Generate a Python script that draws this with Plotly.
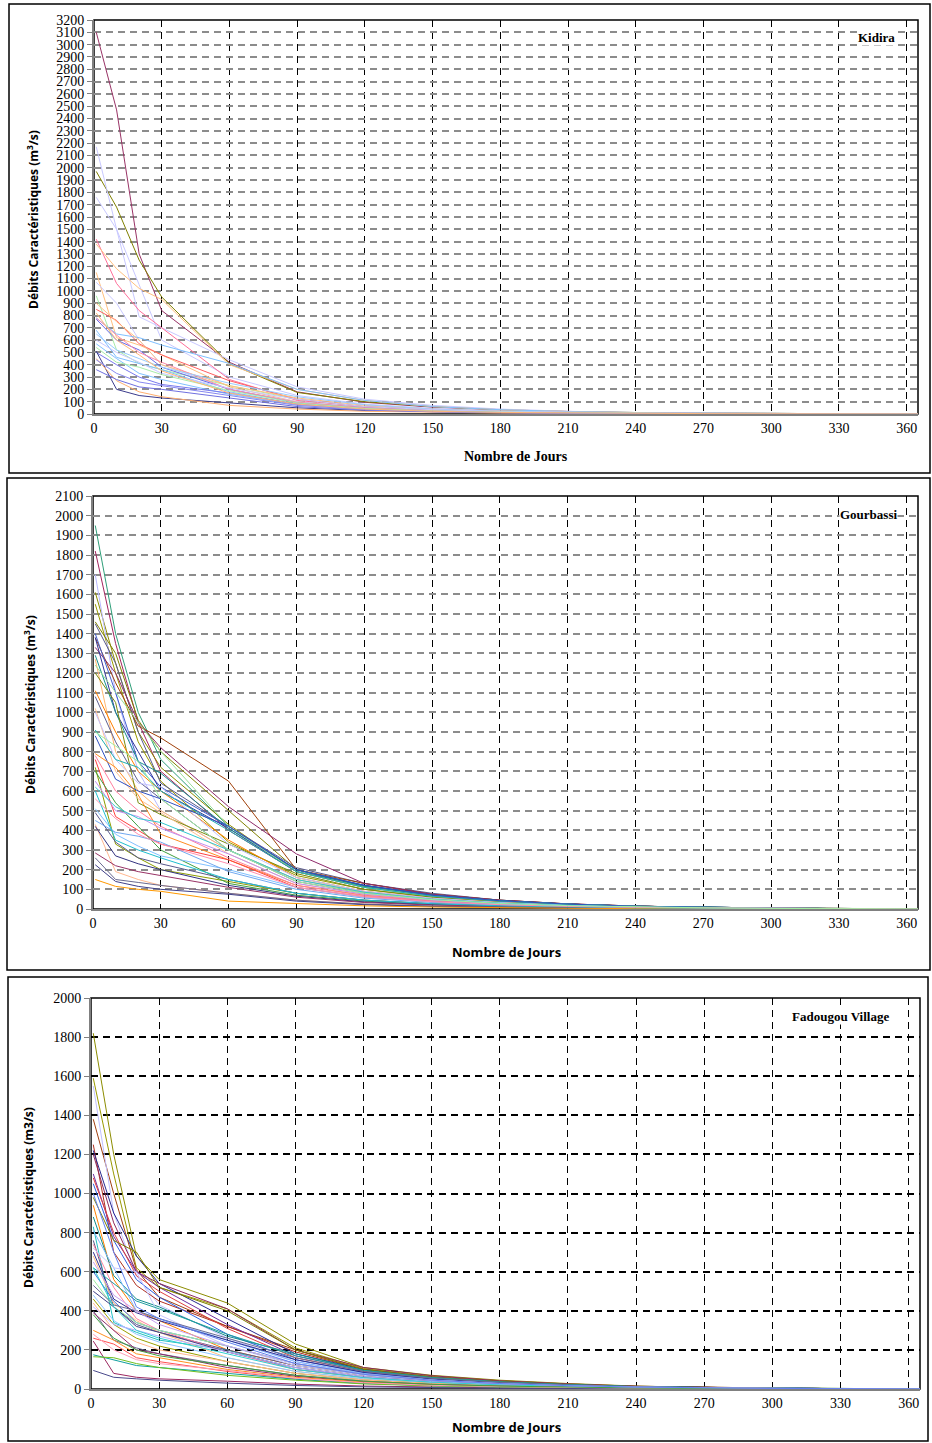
import plotly.graph_objects as go

W, H = 932, 1443

days = [1, 10, 20, 30, 60, 90, 120, 150, 180, 210, 240, 270, 300, 330, 355, 365]

kidira_q = [
    [3100, 2470, 1300, 840, 420, 180, 95, 55, 32, 18, 10, 6, 4, 2, 1, 0.5],
    [1970, 1680, 1250, 950, 410, 175, 100, 60, 35, 20, 12, 7, 4, 2, 1, 0.5],
    [2170, 1500, 790, 700, 440, 220, 120, 70, 40, 22, 12, 7, 4, 2, 1, 0.5],
    [1760, 1500, 1050, 600, 300, 150, 80, 45, 25, 14, 8, 5, 3, 2, 1, 0.5],
    [1420, 1060, 840, 700, 280, 110, 60, 35, 20, 12, 7, 4, 3, 2, 1, 0.5],
    [1380, 1180, 1020, 930, 400, 200, 110, 60, 35, 20, 12, 7, 4, 2, 1, 0.5],
    [1150, 620, 560, 480, 220, 100, 55, 30, 18, 10, 6, 4, 2, 1, 1, 0.5],
    [1070, 900, 600, 400, 200, 100, 55, 30, 18, 10, 6, 4, 2, 1, 1, 0.5],
    [960, 520, 410, 360, 230, 120, 60, 35, 20, 12, 7, 4, 3, 2, 1, 0.5],
    [850, 760, 570, 480, 270, 120, 60, 35, 20, 12, 7, 4, 3, 2, 1, 0.5],
    [780, 650, 620, 560, 410, 200, 110, 60, 35, 20, 12, 7, 4, 2, 1, 0.5],
    [770, 600, 520, 380, 200, 90, 50, 28, 16, 9, 5, 3, 2, 1, 1, 0.5],
    [680, 460, 410, 360, 180, 80, 45, 25, 15, 9, 5, 3, 2, 1, 1, 0.5],
    [570, 450, 330, 280, 160, 75, 40, 22, 13, 8, 5, 3, 2, 1, 1, 0.5],
    [500, 400, 300, 240, 170, 80, 40, 22, 13, 8, 5, 3, 2, 1, 1, 0.5],
    [510, 200, 150, 130, 90, 50, 28, 16, 10, 6, 4, 2, 1, 1, 0.5, 0.3],
    [450, 270, 180, 140, 70, 40, 22, 13, 8, 5, 3, 2, 1, 1, 0.5, 0.3],
    [360, 280, 220, 200, 130, 60, 32, 18, 11, 7, 4, 2, 1, 1, 0.5, 0.3],
    [900, 750, 600, 400, 230, 130, 70, 40, 22, 13, 8, 5, 3, 2, 1, 0.5],
    [780, 640, 500, 420, 200, 95, 50, 28, 16, 10, 6, 4, 2, 1, 1, 0.5],
    [650, 520, 450, 380, 250, 140, 75, 40, 22, 13, 8, 5, 3, 2, 1, 0.5],
    [600, 500, 420, 330, 210, 120, 60, 35, 20, 12, 7, 4, 3, 2, 1, 0.5],
    [540, 420, 380, 320, 190, 90, 45, 25, 15, 9, 5, 3, 2, 1, 1, 0.5],
    [440, 330, 260, 230, 150, 70, 35, 20, 12, 7, 4, 3, 2, 1, 1, 0.5],
    [820, 600, 480, 350, 170, 80, 40, 22, 13, 8, 5, 3, 2, 1, 1, 0.5],
]

gourbassi_q = [
    [1950, 1400, 1000, 760, 420, 200, 120, 75, 45, 25, 15, 8, 5, 2, 1, 0.5],
    [1820, 1350, 950, 700, 400, 190, 110, 70, 42, 25, 14, 8, 5, 2, 1, 0.5],
    [1610, 1250, 900, 720, 430, 190, 110, 65, 40, 24, 14, 8, 5, 2, 1, 0.5],
    [1550, 1200, 850, 650, 340, 170, 100, 60, 36, 22, 13, 7, 4, 2, 1, 0.5],
    [1700, 1100, 700, 500, 300, 150, 85, 50, 30, 18, 10, 6, 4, 2, 1, 0.5],
    [1460, 1300, 960, 800, 500, 200, 115, 70, 42, 25, 14, 8, 5, 2, 1, 0.5],
    [1450, 1250, 900, 640, 420, 210, 130, 80, 45, 26, 15, 8, 5, 2, 1, 0.5],
    [1380, 1150, 930, 870, 650, 200, 130, 75, 45, 26, 15, 8, 5, 2, 1, 0.5],
    [1330, 1200, 950, 820, 520, 280, 130, 75, 45, 26, 15, 8, 5, 2, 1, 0.5],
    [1400, 1100, 750, 620, 420, 200, 120, 70, 42, 25, 14, 8, 5, 2, 1, 0.5],
    [1380, 1000, 800, 600, 410, 190, 120, 70, 42, 25, 14, 8, 5, 2, 1, 0.5],
    [1290, 1000, 750, 690, 410, 200, 115, 70, 42, 25, 14, 8, 5, 2, 1, 0.5],
    [1270, 800, 600, 500, 300, 150, 85, 50, 30, 18, 10, 6, 4, 2, 1, 0.5],
    [1240, 1100, 950, 800, 420, 190, 110, 65, 40, 24, 14, 8, 5, 2, 1, 0.5],
    [1200, 1050, 540, 480, 330, 180, 100, 60, 36, 22, 13, 7, 4, 2, 1, 0.5],
    [1110, 900, 700, 600, 350, 160, 90, 55, 33, 20, 12, 7, 4, 2, 1, 0.5],
    [1080, 850, 650, 560, 300, 140, 80, 48, 28, 17, 10, 6, 3, 2, 1, 0.5],
    [1020, 700, 560, 490, 280, 130, 75, 45, 27, 16, 9, 5, 3, 2, 1, 0.5],
    [1000, 760, 640, 620, 330, 160, 90, 55, 33, 20, 12, 7, 4, 2, 1, 0.5],
    [910, 760, 720, 600, 400, 190, 110, 65, 40, 24, 14, 8, 5, 2, 1, 0.5],
    [880, 660, 600, 560, 420, 200, 120, 70, 42, 25, 14, 8, 5, 2, 1, 0.5],
    [790, 720, 580, 380, 250, 120, 70, 42, 25, 15, 9, 5, 3, 2, 1, 0.5],
    [780, 600, 500, 420, 260, 120, 68, 40, 24, 14, 8, 5, 3, 2, 1, 0.5],
    [760, 470, 400, 330, 250, 110, 62, 37, 22, 13, 8, 5, 3, 2, 1, 0.5],
    [720, 330, 260, 200, 140, 80, 45, 27, 16, 10, 6, 4, 2, 1, 1, 0.5],
    [700, 540, 420, 300, 130, 70, 40, 24, 14, 8, 5, 3, 2, 1, 1, 0.5],
    [650, 500, 470, 410, 280, 130, 75, 45, 27, 16, 9, 5, 3, 2, 1, 0.5],
    [620, 520, 460, 440, 300, 150, 85, 50, 30, 18, 10, 6, 4, 2, 1, 0.5],
    [510, 380, 320, 270, 200, 110, 60, 36, 22, 13, 8, 5, 3, 2, 1, 0.5],
    [490, 340, 260, 230, 150, 80, 45, 27, 16, 10, 6, 4, 2, 1, 1, 0.5],
    [450, 390, 370, 340, 190, 100, 55, 33, 20, 12, 7, 4, 2, 1, 1, 0.5],
    [430, 190, 150, 120, 80, 45, 25, 15, 9, 5, 3, 2, 1, 1, 0.5, 0.3],
    [420, 270, 230, 200, 120, 65, 36, 22, 13, 8, 5, 3, 2, 1, 0.5, 0.3],
    [285, 220, 190, 170, 110, 60, 33, 20, 12, 7, 4, 3, 2, 1, 0.5, 0.3],
    [260, 150, 135, 120, 80, 45, 25, 15, 9, 5, 3, 2, 1, 1, 0.5, 0.3],
    [225, 140, 115, 100, 75, 40, 22, 13, 8, 5, 3, 2, 1, 1, 0.5, 0.3],
    [150, 115, 100, 90, 40, 28, 16, 10, 6, 4, 2, 1, 1, 0.5, 0.3, 0.2],
    [600, 350, 300, 260, 150, 80, 45, 27, 16, 10, 6, 4, 2, 1, 1, 0.5],
    [560, 460, 380, 330, 230, 110, 62, 37, 22, 13, 8, 5, 3, 2, 1, 0.5],
    [900, 830, 750, 560, 300, 140, 80, 48, 28, 17, 10, 6, 3, 2, 1, 0.5],
]

fadougou_q = [
    [1820, 1200, 680, 560, 440, 230, 110, 70, 45, 28, 15, 8, 5, 2, 1, 0.5],
    [1590, 1100, 620, 520, 410, 210, 105, 65, 42, 26, 14, 8, 5, 2, 1, 0.5],
    [1380, 1000, 610, 470, 320, 200, 100, 60, 38, 23, 13, 7, 4, 2, 1, 0.5],
    [1550, 900, 580, 430, 260, 140, 80, 48, 30, 18, 10, 6, 3, 2, 1, 0.5],
    [1250, 700, 530, 450, 320, 190, 100, 60, 38, 23, 13, 7, 4, 2, 1, 0.5],
    [1220, 900, 680, 540, 360, 180, 100, 60, 38, 23, 13, 7, 4, 2, 1, 0.5],
    [1200, 850, 600, 540, 410, 200, 110, 68, 42, 26, 14, 8, 5, 2, 1, 0.5],
    [1100, 780, 600, 520, 330, 170, 95, 58, 36, 22, 12, 7, 4, 2, 1, 0.5],
    [1080, 800, 580, 500, 310, 160, 90, 55, 34, 20, 11, 6, 4, 2, 1, 0.5],
    [1050, 760, 560, 470, 280, 150, 85, 52, 32, 19, 11, 6, 4, 2, 1, 0.5],
    [980, 760, 700, 520, 400, 200, 100, 60, 38, 23, 13, 7, 4, 2, 1, 0.5],
    [940, 560, 400, 350, 200, 120, 70, 42, 26, 16, 9, 5, 3, 2, 1, 0.5],
    [880, 580, 460, 420, 270, 180, 95, 58, 36, 22, 12, 7, 4, 2, 1, 0.5],
    [830, 340, 290, 250, 200, 100, 60, 36, 22, 13, 8, 5, 3, 2, 1, 0.5],
    [810, 620, 400, 360, 250, 140, 80, 48, 30, 18, 10, 6, 3, 2, 1, 0.5],
    [760, 420, 330, 290, 200, 120, 70, 42, 26, 16, 9, 5, 3, 2, 1, 0.5],
    [740, 520, 360, 300, 190, 100, 60, 36, 22, 13, 8, 5, 3, 2, 1, 0.5],
    [720, 620, 600, 380, 220, 120, 70, 42, 26, 16, 9, 5, 3, 2, 1, 0.5],
    [700, 460, 390, 350, 250, 150, 85, 52, 32, 19, 11, 6, 4, 2, 1, 0.5],
    [680, 440, 350, 290, 160, 90, 52, 32, 20, 12, 7, 4, 2, 1, 1, 0.5],
    [620, 540, 450, 410, 280, 170, 95, 58, 36, 22, 12, 7, 4, 2, 1, 0.5],
    [600, 450, 340, 300, 220, 130, 75, 45, 28, 17, 10, 6, 3, 2, 1, 0.5],
    [560, 420, 340, 300, 220, 130, 75, 45, 28, 17, 10, 6, 3, 2, 1, 0.5],
    [530, 430, 400, 360, 260, 160, 90, 55, 34, 20, 11, 6, 4, 2, 1, 0.5],
    [500, 420, 320, 290, 190, 110, 62, 38, 23, 14, 8, 5, 3, 2, 1, 0.5],
    [480, 350, 280, 240, 160, 90, 52, 32, 20, 12, 7, 4, 2, 1, 1, 0.5],
    [460, 330, 260, 220, 140, 80, 46, 28, 17, 10, 6, 4, 2, 1, 1, 0.5],
    [440, 300, 240, 200, 140, 80, 46, 28, 17, 10, 6, 4, 2, 1, 1, 0.5],
    [420, 330, 300, 270, 190, 110, 62, 38, 23, 14, 8, 5, 3, 2, 1, 0.5],
    [400, 250, 210, 180, 120, 70, 40, 24, 15, 9, 5, 3, 2, 1, 1, 0.5],
    [390, 300, 200, 180, 110, 65, 37, 22, 14, 8, 5, 3, 2, 1, 1, 0.5],
    [300, 250, 180, 160, 100, 60, 35, 21, 13, 8, 5, 3, 2, 1, 1, 0.5],
    [260, 230, 160, 140, 90, 52, 30, 18, 11, 7, 4, 2, 1, 1, 0.5, 0.3],
    [245, 80, 60, 52, 40, 25, 15, 9, 6, 4, 2, 1, 1, 0.5, 0.3, 0.2],
    [175, 150, 120, 110, 80, 50, 28, 17, 10, 6, 4, 2, 1, 1, 0.5, 0.3],
    [165, 160, 130, 110, 70, 45, 26, 16, 10, 6, 4, 2, 1, 1, 0.5, 0.3],
    [95, 60, 52, 45, 30, 18, 11, 7, 4, 3, 2, 1, 1, 0.5, 0.3, 0.2],
    [280, 200, 150, 130, 95, 55, 32, 19, 12, 7, 4, 2, 1, 1, 0.5, 0.3],
    [620, 420, 300, 260, 180, 100, 58, 35, 21, 13, 8, 5, 3, 2, 1, 0.5],
    [380, 260, 200, 170, 120, 70, 40, 24, 15, 9, 5, 3, 2, 1, 1, 0.5],
    [650, 480, 400, 330, 220, 130, 75, 45, 28, 17, 10, 6, 3, 2, 1, 0.5],
    [1000, 700, 420, 360, 240, 130, 75, 45, 28, 17, 10, 6, 3, 2, 1, 0.5],
]

# ---- styles ----
kidira_colors = ["#993366", "#808000", "#C8C8FF", "#C8C8FF", "#FF6F9A", "#FFC080",
                 "#FFC080", "#C8C8FF", "#A8ECA8", "#FF6060", "#80C0FF", "#6A6AE8",
                 "#80C0FF", "#80C0FF", "#7A7AEE", "#3C3C8C", "#FFB070", "#7070E0",
                 "#FFC080", "#FF8AA8", "#99CCFF", "#C8C8FF", "#A8ECA8", "#8888F0",
                 "#FFB878"]
gourbassi_colors = ["#2E9E78", "#A3245E", "#8C8C00", "#999900", "#B8B8FF", "#808000",
                    "#5A5A8C", "#A0400A", "#8E2A6A", "#4060D0", "#333399", "#1A9090",
                    "#FFB870", "#99E099", "#7A8C10", "#FF7F00", "#606090", "#FFC090",
                    "#C0C0FF", "#20B0B0", "#3050C0", "#FF8C20", "#FF7FA0", "#FF4040",
                    "#8C9C00", "#40A040", "#C090F0", "#30C8D0", "#80C0FF", "#5A5A8C",
                    "#70A8F0", "#FFB890", "#333380", "#993366", "#6A6A90", "#404088",
                    "#FF9900", "#20C0D0", "#FF8FB0", "#A0F0A0"]
fadougou_colors = ["#8C8C00", "#999900", "#A04010", "#C0C0FF", "#B03020", "#2A2A90",
                   "#8E2A5A", "#7030A0", "#E04040", "#3060E0", "#808000", "#FF7F00",
                   "#108C8C", "#20C0C0", "#80B8FF", "#5A5A8C", "#FF80A0", "#C8C8FF",
                   "#303090", "#FFC080", "#20A0A0", "#4070E0", "#A0F0A0", "#6A6A94",
                   "#404088", "#90C8FF", "#9CA000", "#FFB890", "#B8B0FF", "#6A6A90",
                   "#8E2A6A", "#FF9020", "#FF5050", "#9C2860", "#10A0A0", "#70C020",
                   "#4A4A8C", "#FF9FB8", "#30D0D0", "#40A040", "#C8A0F0", "#6080F0"]

fig = go.Figure()


def px_x(x):
    return x / W


def px_y(y):
    return 1 - y / H


panels = [
    dict(q=kidira_q, colors=kidira_colors, xa="x", ya="y"),
    dict(q=gourbassi_q, colors=gourbassi_colors, xa="x2", ya="y2"),
    dict(q=fadougou_q, colors=fadougou_colors, xa="x3", ya="y3"),
]
for p in panels:
    for vals, col in zip(p["q"], p["colors"]):
        fig.add_trace(go.Scatter(x=days, y=vals, mode="lines", xaxis=p["xa"], yaxis=p["ya"],
                                 line=dict(color=col, width=1), showlegend=False,
                                 hoverinfo="skip"))

serif = "Liberation Serif, Times New Roman, serif"
sans = "Open Sans, Noto Sans, sans-serif"

xticks = list(range(0, 361, 30))


def xaxis_cfg(x0, x1, anchor):
    return dict(domain=[px_x(x0), px_x(x1)], anchor=anchor, range=[0, 365],
                tickvals=xticks, ticks="", showgrid=True, gridcolor="#000000",
                griddash="7px,5px", gridwidth=1.2, zeroline=False, automargin=False,
                showline=True, linecolor="#808080", linewidth=2,
                tickfont=dict(family=serif, size=14, color="#000"))


def yaxis_cfg(y_top, y_bot, anchor, rng, dtick, gridcol):
    return dict(domain=[px_y(y_bot), px_y(y_top)], anchor=anchor, range=rng,
                tickmode="linear", tick0=0, dtick=dtick, ticks="outside", ticklen=5,
                tickcolor="#808080", showgrid=True, gridcolor=gridcol,
                griddash="7px,5px", gridwidth=1.5, zeroline=False, automargin=False,
                showline=True, linecolor="#808080", linewidth=2,
                tickfont=dict(family=serif, size=14, color="#000"))


# plot areas (pixels)
P1 = (94, 20, 918, 414)
P2 = (93, 496, 918, 909)
P3 = (91, 998, 920, 1389)

fig.update_layout(
    width=W, height=H, margin=dict(l=0, r=0, t=0, b=0),
    paper_bgcolor="white", plot_bgcolor="white",
    xaxis=xaxis_cfg(P1[0], P1[2], "y"),
    yaxis=yaxis_cfg(P1[1], P1[3], "x", [0, 3200], 100, "#8C8C8C"),
    xaxis2=xaxis_cfg(P2[0], P2[2], "y2"),
    yaxis2=yaxis_cfg(P2[1], P2[3], "x2", [0, 2100], 100, "#8C8C8C"),
    xaxis3=xaxis_cfg(P3[0], P3[2], "y3"),
    yaxis3=yaxis_cfg(P3[1], P3[3], "x3", [0, 2000], 200, "#000000"),
)

shapes = []
for (x0, y0, x1, y1) in (P1, P2, P3):
    shapes.append(dict(type="rect", xref="paper", yref="paper",
                       x0=px_x(x0), x1=px_x(x1), y0=px_y(y1), y1=px_y(y0),
                       line=dict(color="#000000", width=1.5), layer="below"))
for (x0, y0, x1, y1) in ((9, 4, 930, 473), (7, 478, 930, 970), (8, 977, 928, 1441)):
    shapes.append(dict(type="rect", xref="paper", yref="paper",
                       x0=px_x(x0), x1=px_x(x1), y0=px_y(y1), y1=px_y(y0),
                       line=dict(color="#000000", width=1.5), layer="below"))
fig.update_layout(shapes=shapes)

ann = []
ytitle = "Débits Caractéristiques (m<sup>3</sup>/s)"
for (xc, yc, txt) in ((33, 220, ytitle), (30, 705, ytitle),
                      (28, 1198, "Débits Caractéristiques (m3/s)")):
    ann.append(dict(x=px_x(xc), y=px_y(yc), xref="paper", yref="paper", text=txt,
                    textangle=-90, showarrow=False, xanchor="center", yanchor="middle",
                    font=dict(family=sans, size=12, color="#000", weight="bold")))
for (xc, yc, fam, sz) in ((516, 457, serif, 14), (506, 952, sans, 13), (506, 1427, sans, 13)):
    ann.append(dict(x=px_x(xc), y=px_y(yc), xref="paper", yref="paper",
                    text="<b>Nombre de Jours</b>", showarrow=False,
                    xanchor="center", yanchor="middle",
                    font=dict(family=fam, size=sz, color="#000")))
for (xc, yc, txt) in ((876, 37, "Kidira"), (868, 514, "Gourbassi"),
                      (840, 1016, "Fadougou Village")):
    ann.append(dict(x=px_x(xc), y=px_y(yc), xref="paper", yref="paper",
                    text="<b>" + txt + "</b>", showarrow=False, bgcolor="white",
                    xanchor="center", yanchor="middle", borderpad=0,
                    font=dict(family=serif, size=13, color="#000")))
fig.update_layout(annotations=ann)

fig.write_html("out.html")
